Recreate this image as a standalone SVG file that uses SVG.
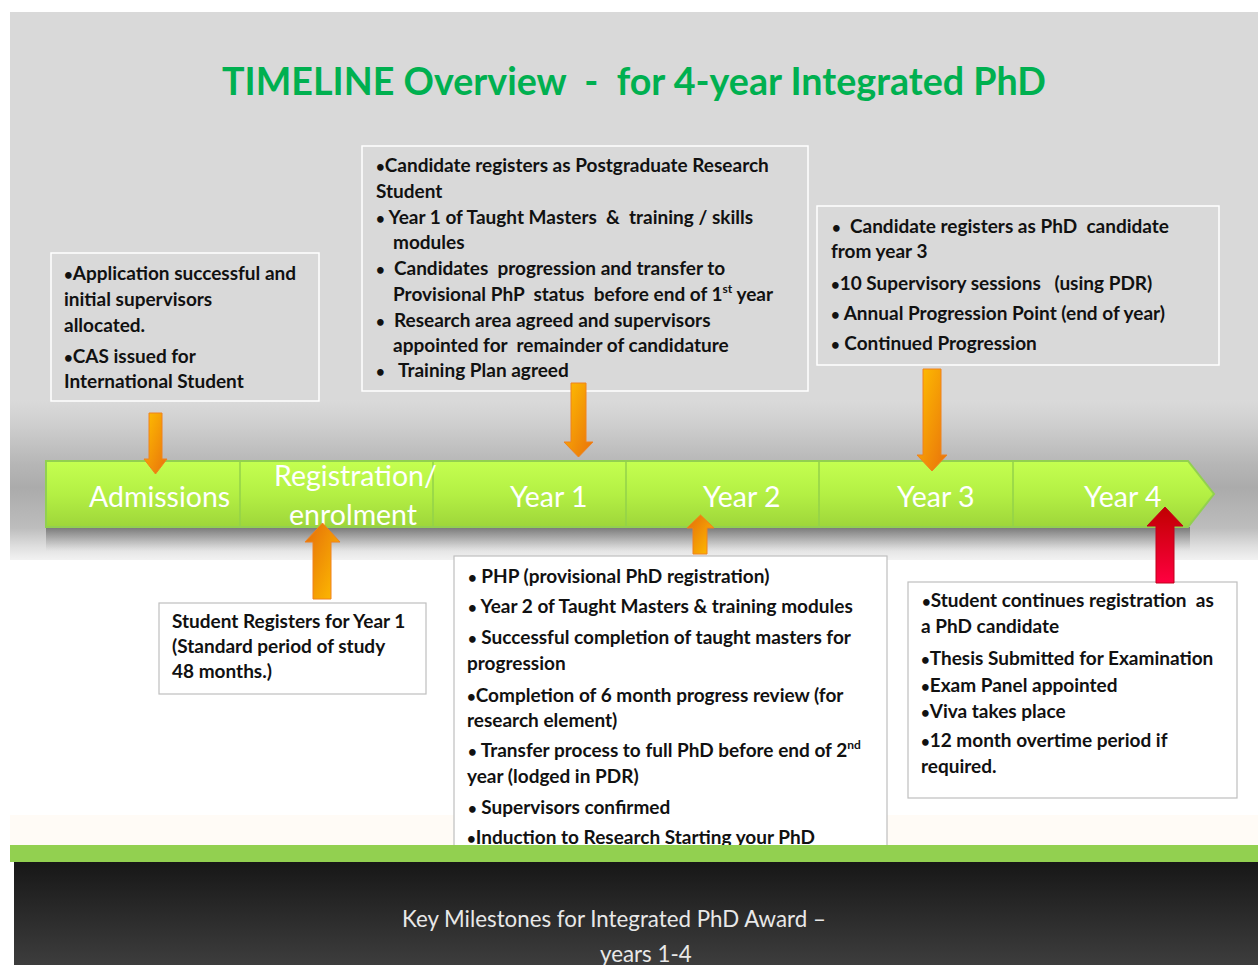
<svg xmlns="http://www.w3.org/2000/svg" width="1258" height="965" viewBox="0 0 1258 965">
<style>
text{white-space:pre;font-family:Lato,"Liberation Sans",sans-serif}
.b{font-weight:bold;font-size:19px;fill:#111}
.seg{font-size:28.5px;fill:#ffffff}
.top{fill:none;stroke:#ffffff;stroke-width:1.5}
.bot{fill:#ffffff;stroke:#bfbfbf;stroke-width:1.2}
.ao{fill:url(#gDown);stroke:#f0821e;stroke-width:1}
.au{fill:url(#gUp);stroke:#f0821e;stroke-width:1}
.ar{fill:url(#gRed);stroke:#c0001a;stroke-width:1}
.div{stroke:#93d24a;stroke-width:1.5}
.sup{font-size:12px}
.u{font-size:15px}
</style>
<defs>
<linearGradient id="gBand" gradientUnits="userSpaceOnUse" x1="0" y1="400" x2="0" y2="560">
<stop offset="0" stop-color="#dadada"/>
<stop offset="0.15" stop-color="#cfcfcf"/>
<stop offset="0.4" stop-color="#b6b6b6"/>
<stop offset="0.55" stop-color="#ababab"/>
<stop offset="0.8" stop-color="#bdbdbd"/>
<stop offset="0.92" stop-color="#e0e0e0"/>
<stop offset="1" stop-color="#f2f2f2"/>
</linearGradient>
<linearGradient id="gBar" x1="0" y1="0" x2="0" y2="1">
<stop offset="0" stop-color="#c4ff50"/>
<stop offset="0.5" stop-color="#b4f044"/>
<stop offset="1" stop-color="#9ed63a"/>
</linearGradient>
<linearGradient id="gShadow" x1="0" y1="0" x2="0" y2="1">
<stop offset="0" stop-color="#606060" stop-opacity="0.75"/>
<stop offset="1" stop-color="#909090" stop-opacity="0"/>
</linearGradient>
<linearGradient id="gDown" x1="0" y1="0" x2="1" y2="1">
<stop offset="0" stop-color="#ffc000"/>
<stop offset="1" stop-color="#e8700c"/>
</linearGradient>
<linearGradient id="gUp" x1="0" y1="0" x2="1" y2="1">
<stop offset="0" stop-color="#e46c0a"/>
<stop offset="1" stop-color="#ffc000"/>
</linearGradient>
<linearGradient id="gRed" x1="0" y1="0" x2="0" y2="1">
<stop offset="0" stop-color="#c00000"/>
<stop offset="1" stop-color="#ff0040"/>
</linearGradient>
<linearGradient id="gFoot" x1="0" y1="0" x2="0" y2="1">
<stop offset="0" stop-color="#171717"/>
<stop offset="1" stop-color="#3d3d3d"/>
</linearGradient>
</defs>

<g id="background">
<rect x="0" y="0" width="1258" height="965" fill="#ffffff"/>
<rect x="10" y="12" width="1248" height="390" fill="#d9d9d9"/>
<rect x="10" y="400" width="1248" height="160" fill="url(#gBand)"/>
<rect x="10" y="815" width="1248" height="30" fill="#fffbf6"/>
</g>

<g id="title">
<text x="222" y="95" font-size="39" font-weight="bold" fill="#00b050" textLength="824" lengthAdjust="spacingAndGlyphs">TIMELINE Overview  -  for 4-year Integrated PhD</text>
</g>

<g id="timeline">
<rect x="46" y="527" width="1144" height="24" fill="url(#gShadow)"/>
<polygon points="46,461 1188,461 1214,494 1188,527 46,527" fill="url(#gBar)" stroke="#92d050" stroke-width="2"/>
<line class="div" x1="240" y1="462" x2="240" y2="526"/>
<line class="div" x1="433" y1="462" x2="433" y2="526"/>
<line class="div" x1="626" y1="462" x2="626" y2="526"/>
<line class="div" x1="819" y1="462" x2="819" y2="526"/>
<line class="div" x1="1013" y1="462" x2="1013" y2="526"/>
</g>
<g id="seg-admissions"><text class="seg" x="89" y="507">Admissions</text></g>
<g id="seg-registration"><text class="seg" x="274" y="486">Registration/</text><text class="seg" x="289" y="525">enrolment</text></g>
<g id="seg-year1"><text class="seg" x="510" y="507">Year 1</text></g>
<g id="seg-year2"><text class="seg" x="703" y="507">Year 2</text></g>
<g id="seg-year3"><text class="seg" x="897" y="507">Year 3</text></g>
<g id="seg-year4"><text class="seg" x="1084" y="507">Year 4</text></g>

<g id="box-admissions">
<rect class="top" x="51" y="253" width="268" height="148"/>
<text class="b" x="64" y="280"><tspan class="u">•</tspan>Application successful and</text>
<text class="b" x="64" y="306">initial supervisors</text>
<text class="b" x="64" y="332">allocated.</text>
<text class="b" x="64" y="363"><tspan class="u">•</tspan>CAS issued for</text>
<text class="b" x="64" y="388">International Student</text>
</g>

<g id="box-year1">
<rect class="top" x="362" y="146" width="446" height="245"/>
<text class="b" x="376" y="172"><tspan class="u">•</tspan>Candidate registers as Postgraduate Research</text>
<text class="b" x="376" y="198">Student</text>
<text class="b" x="376" y="224"><tspan class="u">•</tspan> Year 1 of Taught Masters  &amp;  training / skills</text>
<text class="b" x="393" y="249">modules</text>
<text class="b" x="376" y="275"><tspan class="u">•</tspan>  Candidates  progression and transfer to</text>
<text class="b" x="393" y="301">Provisional PhP  status  before end of 1<tspan class="sup" dy="-8">st</tspan><tspan dy="8"> year</tspan></text>
<text class="b" x="376" y="327"><tspan class="u">•</tspan>  Research area agreed and supervisors</text>
<text class="b" x="393" y="352">appointed for  remainder of candidature</text>
<text class="b" x="376" y="377"><tspan class="u">•</tspan>   Training Plan agreed</text>
</g>

<g id="box-year3">
<rect class="top" x="817" y="206" width="402" height="159"/>
<text class="b" x="832" y="233"><tspan class="u">•</tspan>  Candidate registers as PhD  candidate</text>
<text class="b" x="831" y="258">from year 3</text>
<text class="b" x="831" y="290"><tspan class="u">•</tspan>10 Supervisory sessions   (using PDR)</text>
<text class="b" x="831" y="320"><tspan class="u">•</tspan> Annual Progression Point (end of year)</text>
<text class="b" x="831" y="350"><tspan class="u">•</tspan> Continued Progression</text>
</g>

<g id="box-registration">
<rect class="bot" x="159" y="603" width="267" height="91"/>
<text class="b" x="172" y="628">Student Registers for Year 1</text>
<text class="b" x="172" y="653">(Standard period of study</text>
<text class="b" x="172" y="678">48 months.)</text>
</g>

<g id="box-year2">
<rect class="bot" x="454" y="556" width="433" height="295"/>
<text class="b" x="468" y="583"><tspan class="u">•</tspan> PHP (provisional PhD registration)</text>
<text class="b" x="468" y="613"><tspan class="u">•</tspan> Year 2 of Taught Masters &amp; training modules</text>
<text class="b" x="468" y="644"><tspan class="u">•</tspan> Successful completion of taught masters for</text>
<text class="b" x="467" y="670">progression</text>
<text class="b" x="467" y="702"><tspan class="u">•</tspan>Completion of 6 month progress review (for</text>
<text class="b" x="467" y="727">research element)</text>
<text class="b" x="468" y="757"><tspan class="u">•</tspan> Transfer process to full PhD before end of 2<tspan class="sup" dy="-8">nd</tspan></text>
<text class="b" x="467" y="783">year (lodged in PDR)</text>
<text class="b" x="468" y="814"><tspan class="u">•</tspan> Supervisors confirmed</text>
<text class="b" x="467" y="844"><tspan class="u">•</tspan>Induction to Research Starting your PhD</text>
</g>

<g id="box-year4">
<rect class="bot" x="908" y="582" width="329" height="216"/>
<text class="b" x="922" y="607"><tspan class="u">•</tspan>Student continues registration  as</text>
<text class="b" x="921" y="633">a PhD candidate</text>
<text class="b" x="921" y="665"><tspan class="u">•</tspan>Thesis Submitted for Examination</text>
<text class="b" x="921" y="692"><tspan class="u">•</tspan>Exam Panel appointed</text>
<text class="b" x="921" y="718"><tspan class="u">•</tspan>Viva takes place</text>
<text class="b" x="921" y="747"><tspan class="u">•</tspan>12 month overtime period if</text>
<text class="b" x="921" y="773">required.</text>
</g>

<g id="connectors">
<path class="ao" d="M149,413 H162 V459 H167 L155.5,474 L144,459 H149 Z"/>
<path class="ao" d="M571,383 H586 V442 H593 L578.5,457 L564,442 H571 Z"/>
<path class="ao" d="M923,369 H941 V455 H947 L932,471 L917,455 H923 Z"/>
<path class="au" d="M313,599 H331 V542 H340 L322.5,523 L305,542 H313 Z"/>
<path class="au" d="M693,554 H707 V528 H714 L700.5,515 L687,528 H693 Z"/>
<path class="ar" d="M1156,583 H1174 V526 H1183 L1165,507 L1147,526 H1156 Z"/>
</g>

<g id="footer">
<rect x="10" y="845" width="1248" height="17" fill="#92d050"/>
<rect x="14" y="862" width="1244" height="103" fill="url(#gFoot)"/>
<text x="402" y="927" font-size="22.3" fill="#e8e8e8">Key Milestones for Integrated PhD Award –</text>
<text x="600" y="962" font-size="22.3" fill="#e8e8e8">years 1-4</text>
</g>
</svg>
